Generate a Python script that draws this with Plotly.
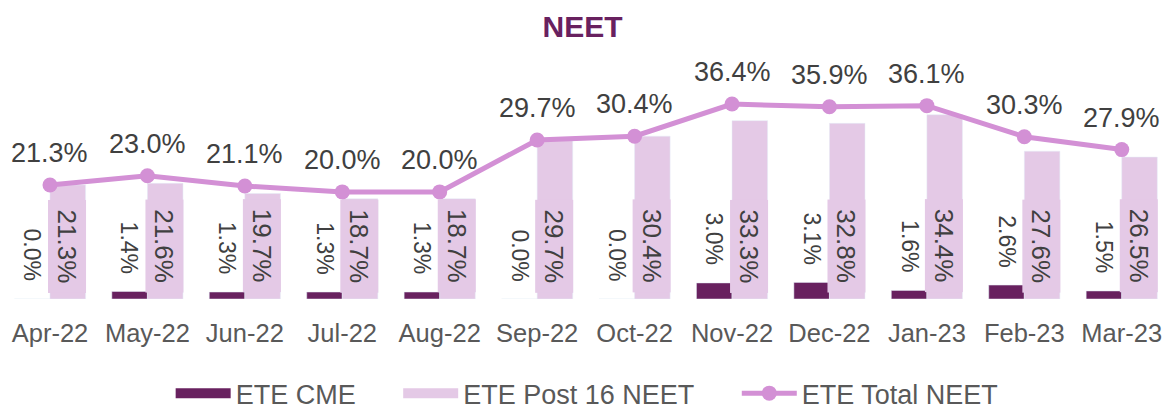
import plotly.graph_objects as go

months = ["Apr-22", "May-22", "Jun-22", "Jul-22", "Aug-22", "Sep-22",
          "Oct-22", "Nov-22", "Dec-22", "Jan-23", "Feb-23", "Mar-23"]
ete_cme = [0.0, 1.4, 1.3, 1.3, 1.3, 0.0, 0.0, 3.0, 3.1, 1.6, 2.6, 1.5]
ete_post16 = [21.3, 21.6, 19.7, 18.7, 18.7, 29.7, 30.4, 33.3, 32.8, 34.4, 27.6, 26.5]
ete_total = [21.3, 23.0, 21.1, 20.0, 20.0, 29.7, 30.4, 36.4, 35.9, 36.1, 30.3, 27.9]

DARK = "#68215f"
LIGHT = "#e4c9e6"
LINE = "#d390d5"
TXT = "#404040"
GREY = "#595959"
FONT = "Arial, Liberation Sans, sans-serif"
PAD = "\u00a0" * 5

fig = go.Figure()
fig.add_trace(go.Bar(x=months, y=ete_cme, name="ETE CME", marker_color=DARK, showlegend=False))
fig.add_trace(go.Bar(x=months, y=ete_post16, name="ETE Post 16 NEET", marker_color=LIGHT,
                     showlegend=False))
# legend-only entries (wide swatches like the original)
fig.add_trace(go.Scatter(x=[None], y=[None], name="ETE CME" + PAD, mode="lines",
                         line=dict(color=DARK, width=16)))
fig.add_trace(go.Scatter(x=[None], y=[None], name="ETE Post 16 NEET" + PAD, mode="lines",
                         line=dict(color=LIGHT, width=16)))
fig.add_trace(go.Scatter(x=months, y=ete_total, name="ETE Total NEET", mode="lines+markers",
                         line=dict(color=LINE, width=5), marker=dict(color=LINE, size=15)))

ann = []
off = 0.18
for i, m in enumerate(months):
    ann.append(dict(x=i, y=ete_total[i], xref="x", yref="y", text=f"{ete_total[i]:.1f}%",
                    showarrow=False, yshift=32, font=dict(size=27, color=TXT, family=FONT)))
    ann.append(dict(x=i - off, y=ete_cme[i], xref="x", yref="y", text=f"{ete_cme[i]:.1f}%",
                    showarrow=False, textangle=90, yanchor="bottom", yshift=16,
                    font=dict(size=23, color=TXT, family=FONT)))
    ann.append(dict(x=i + off, y=0, xref="x", yref="y", text=f"{ete_post16[i]:.1f}%",
                    showarrow=False, textangle=90, yanchor="bottom", yshift=6,
                    bgcolor=LIGHT, borderpad=0, width=92, height=37,
                    font=dict(size=26, color=TXT, family=FONT)))

fig.update_layout(
    width=1165, height=410,
    margin=dict(l=0, r=0, t=58, b=111, autoexpand=False),
    paper_bgcolor="white", plot_bgcolor="white",
    title=dict(text="<b>NEET</b>", x=0.5, xanchor="center", y=0.935, yanchor="middle",
               font=dict(size=30, color=DARK, family=FONT)),
    barmode="group", bargap=0.27, bargroupgap=0,
    font=dict(family=FONT, color=GREY),
    xaxis=dict(range=[-0.513, 11.444], showgrid=False, showline=False, ticks="",
               ticklabelstandoff=16, tickfont=dict(size=25.5, color=GREY)),
    yaxis=dict(range=[0, 45], visible=False, showgrid=False),
    legend=dict(orientation="h", x=0.504, xanchor="center", y=0.04, yanchor="middle",
                xref="container", yref="container", itemwidth=55,
                font=dict(size=27, color=GREY), traceorder="normal"),
    annotations=ann,
    showlegend=True,
)

fig.write_html("out.html", config={"displayModeBar": False},
               post_script="document.body.style.margin='0px';")
